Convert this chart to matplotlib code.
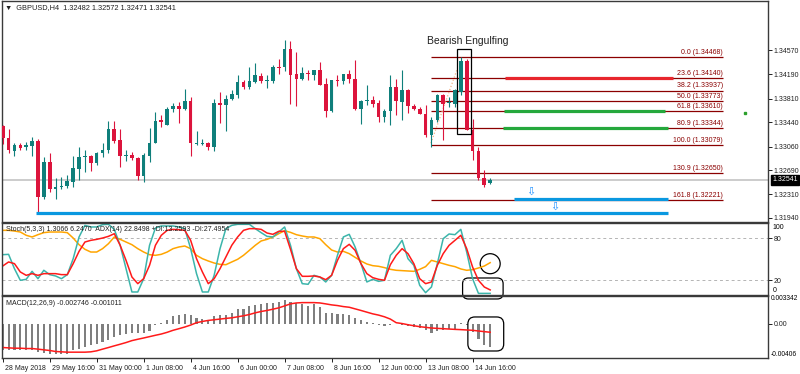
import matplotlib
matplotlib.use('Agg')
import matplotlib.pyplot as plt
from matplotlib.patches import Rectangle, Ellipse, FancyBboxPatch
from matplotlib.transforms import ScaledTranslation
import numpy as np

plt.rcParams['font.family'] = ['Liberation Sans', 'DejaVu Sans']

# GBPUSD H4 candles
opens = [1.33379, 1.33186, 1.32993, 1.33082, 1.33045, 1.33066, 1.33144, 1.32264, 1.32821, 1.32394,
         1.32431, 1.32446, 1.32509, 1.32712, 1.32889, 1.32910, 1.32806, 1.32962, 1.32998, 1.33332,
         1.33160, 1.32905, 1.32920, 1.32879, 1.32597, 1.32915, 1.33123, 1.33473, 1.33405, 1.33645,
         1.33691, 1.33645, 1.33770, 1.33103, 1.33103, 1.33123, 1.33056, 1.33738, 1.33718, 1.33811,
         1.33874, 1.34077, 1.33994, 1.34077, 1.34160, 1.34093, 1.34087, 1.34306, 1.34306, 1.34582,
         1.34192, 1.34113, 1.34212, 1.34186, 1.34254, 1.34046, 1.33613, 1.34098, 1.34093, 1.34192,
         1.34124, 1.33645, 1.33775, 1.33785, 1.33744, 1.33525, 1.33613, 1.33994, 1.33759, 1.33942,
         1.33697, 1.33655, 1.33577, 1.33238, 1.33473, 1.33863, 1.33744, 1.33733, 1.33915, 1.34400,
         1.33327, 1.32993, 1.32561, 1.32482]
highs = [1.33394, 1.33342, 1.33108, 1.33108, 1.33134, 1.33212, 1.33176, 1.32889, 1.32952, 1.32571,
         1.32587, 1.32613, 1.32910, 1.33045, 1.33004, 1.32925, 1.32978, 1.33118, 1.33457, 1.33467,
         1.33342, 1.33004, 1.32972, 1.32900, 1.32952, 1.33358, 1.33603, 1.33551, 1.33681, 1.33749,
         1.33759, 1.33968, 1.33837, 1.33301, 1.33176, 1.33134, 1.33811, 1.33915, 1.33863, 1.33942,
         1.34176, 1.34098, 1.34306, 1.34374, 1.34212, 1.34176, 1.34343, 1.34426, 1.34733, 1.34707,
         1.34541, 1.34306, 1.34254, 1.34265, 1.34384, 1.34140, 1.34108, 1.34181, 1.34202, 1.34254,
         1.34410, 1.33785, 1.34020, 1.33848, 1.33785, 1.33655, 1.34176, 1.34124, 1.34254, 1.33968,
         1.33733, 1.33681, 1.33707, 1.33525, 1.33889, 1.33889, 1.33837, 1.33968, 1.34463, 1.34436,
         1.33499, 1.33056, 1.32691, 1.32572]
lows = [1.33097, 1.32952, 1.32915, 1.33004, 1.33004, 1.32915, 1.32014, 1.32233, 1.32353, 1.32243,
        1.32394, 1.32405, 1.32431, 1.32535, 1.32665, 1.32681, 1.32769, 1.32900, 1.32962, 1.33108,
        1.32743, 1.32837, 1.32847, 1.32535, 1.32509, 1.32821, 1.33108, 1.33368, 1.33394, 1.33603,
        1.33431, 1.33629, 1.32915, 1.33082, 1.33082, 1.33004, 1.32993, 1.33431, 1.33306, 1.33796,
        1.33827, 1.33968, 1.33957, 1.34061, 1.34056, 1.33983, 1.34061, 1.34202, 1.34244, 1.33723,
        1.33691, 1.34108, 1.34108, 1.34108, 1.34020, 1.33525, 1.33603, 1.34004, 1.34035, 1.34056,
        1.33629, 1.33421, 1.33707, 1.33681, 1.33447, 1.33447, 1.33394, 1.33551, 1.33473, 1.33587,
        1.33639, 1.33566, 1.33212, 1.33056, 1.33447, 1.33160, 1.33681, 1.33681, 1.33863, 1.33316,
        1.32847, 1.32535, 1.32431, 1.32471]
closes = [1.33186, 1.33004, 1.33082, 1.33030, 1.33077, 1.33144, 1.32264, 1.32821, 1.32394, 1.32431,
          1.32446, 1.32519, 1.32722, 1.32894, 1.32910, 1.32806, 1.32962, 1.32998, 1.33332, 1.33149,
          1.32910, 1.32920, 1.32874, 1.32597, 1.32925, 1.33123, 1.33467, 1.33447, 1.33645, 1.33691,
          1.33645, 1.33770, 1.33108, 1.33118, 1.33123, 1.33056, 1.33738, 1.33718, 1.33811, 1.33879,
          1.34077, 1.33994, 1.34087, 1.34176, 1.34087, 1.34108, 1.34306, 1.34296, 1.34582, 1.34186,
          1.34113, 1.34212, 1.34192, 1.34254, 1.34030, 1.33618, 1.34098, 1.34082, 1.34192, 1.34113,
          1.33645, 1.33775, 1.33785, 1.33733, 1.33525, 1.33613, 1.33994, 1.33770, 1.33942, 1.33697,
          1.33655, 1.33577, 1.33238, 1.33483, 1.33863, 1.33733, 1.33759, 1.33942, 1.34400, 1.33327,
          1.32993, 1.32561, 1.32457, 1.32541]

# indicator values
stoch_main = [56.6, 57.1, 36.6, 20.0, 21.4, 32.8, 22.3, 34.3, 28.1, 26.2, 22.3, 28.1, 50.9, 81.9, 98.5,
              96.2, 96.2, 99.5, 100.0, 92.8, 70.0, 36.6, 3.3, 3.3, 22.3, 70.0, 94.7, 97.6, 97.6, 97.6,
              96.2, 93.8, 65.2, 29.5, 3.3, 3.3, 27.1, 65.2, 93.8, 98.5, 100.0, 100.0, 100.0,
              93.8, 88.1, 82.8, 81.9, 89.0, 96.2, 70.0, 36.6, 15.2, 14.3, 27.1, 24.7, 17.6, 27.1,
              55.7, 81.9, 85.7, 67.6, 43.8, 17.6, 21.4, 18.5, 20.0, 55.7, 65.2, 77.1, 50.9, 41.4,
              12.8, 2.3, 10.4, 43.8, 79.5, 86.2, 85.2, 92.8, 60.4, 22.3, 1.3, 1.3, 1.3066]
stoch_signal = [40.4, 46.2, 43.8, 31.9, 27.1, 29.5, 27.1, 29.5, 29.5, 29.5, 28.1, 28.1, 43.8, 61.4, 74.7,
                77.1, 78.5, 80.4, 82.8, 86.6, 70.0, 48.5, 24.7, 15.2, 22.3, 41.4, 70.0, 84.3, 91.4, 92.8,
                92.3, 91.4, 77.1, 50.9, 31.9, 15.2, 22.3, 36.6, 53.3, 70.0, 81.9, 91.4, 93.8,
                93.8, 92.8, 87.6, 85.7, 90.0, 90.0, 64.3, 36.6, 25.7, 25.7, 26.2, 24.7, 20.9, 27.1,
                48.5, 65.2, 71.4, 62.8, 43.8, 29.5, 23.8, 21.4, 20.0, 42.3, 55.7, 65.2, 58.1, 43.8,
                22.3, 15.2, 17.6, 41.4, 58.1, 70.0, 77.1, 84.3, 65.2, 39.0, 20.0, 10.4, 6.247]
adx_line = [91.4, 91.4, 90.4, 89.0, 84.3, 81.9, 85.2, 88.1, 89.0, 89.0, 89.0, 88.1, 80.4, 70.9, 64.3,
            60.4, 60.4, 65.2, 72.3, 81.9, 78.5, 74.7, 70.9, 65.2, 60.4, 56.6, 55.7, 57.1, 60.4, 65.2,
            67.6, 69.0, 65.2, 55.7, 50.9, 47.6, 44.7, 42.8, 42.3, 46.2, 50.0, 55.7, 62.8,
            70.0, 76.2, 78.5, 81.9, 86.6, 90.9, 88.5, 85.2, 83.3, 81.9, 81.9, 79.5, 70.9, 63.3,
            60.4, 61.4, 58.1, 52.8, 47.6, 43.3, 40.9, 40.0, 38.1, 35.7, 34.3, 33.8, 33.3, 32.8,
            35.7, 39.5, 48.5, 46.2, 43.8, 41.4, 39.5, 36.2, 34.3, 35.2, 37.6, 40.4, 45.2]
macd_hist = [-0.00306, -0.00313, -0.00313, -0.00313, -0.00313, -0.00313, -0.00333, -0.00341, -0.00353, -0.00360,
             -0.00360, -0.00353, -0.00313, -0.00294, -0.00275, -0.00255, -0.00235, -0.00216, -0.00188, -0.00157,
             -0.00129, -0.00118, -0.00110, -0.00110, -0.00110, -0.00087, -0.00015, 0.00008, 0.00047, 0.00086,
             0.00109, 0.00117, 0.00098, 0.00070, 0.00059, 0.00039, 0.00086, 0.00098, 0.00109, 0.00125,
             0.00176, 0.00176, 0.00215, 0.00223, 0.00235, 0.00242, 0.00250, 0.00258, 0.00282, 0.00254,
             0.00250, 0.00235, 0.00215, 0.00235, 0.00203, 0.00125, 0.00125, 0.00117, 0.00117, 0.00109,
             0.00070, 0.00039, 0.00019, 0.00008, -0.00012, -0.00023, -0.00012, -0.00004, -0.00020, -0.00028,
             -0.00040, -0.00051, -0.00078, -0.00106, -0.00090, -0.00078, -0.00067, -0.00059, 0.00012, -0.00012,
             -0.00098, -0.00176, -0.00247, -0.002746]
macd_signal = [-0.00282, -0.00286, -0.00290, -0.00290, -0.00294, -0.00294, -0.00301, -0.00309, -0.00317, -0.00329,
               -0.00333, -0.00337, -0.00337, -0.00337, -0.00337, -0.00333, -0.00321, -0.00301, -0.00282, -0.00262,
               -0.00243, -0.00223, -0.00200, -0.00184, -0.00169, -0.00153, -0.00137, -0.00122, -0.00102, -0.00078,
               -0.00059, -0.00039, -0.00016, 0.00012, 0.00027, 0.00039, 0.00047, 0.00055, 0.00063, 0.00070,
               0.00082, 0.00094, 0.00109, 0.00129, 0.00145, 0.00157, 0.00172, 0.00188, 0.00211, 0.00235,
               0.00246, 0.00250, 0.00250, 0.00250, 0.00246, 0.00235, 0.00223, 0.00215, 0.00203, 0.00195,
               0.00176, 0.00157, 0.00137, 0.00117, 0.00102, 0.00082, 0.00055, 0.00012, 0.00002, -0.00012,
               -0.00024, -0.00035, -0.00043, -0.00051, -0.00055, -0.00059, -0.00063, -0.00067, -0.00070, -0.00074,
               -0.00078, -0.00086, -0.00094, -0.001011]

xtick_pos = [0, 8, 16, 24, 32, 40, 48, 56, 64, 72, 80]
xtick_labels = ['28 May 2018', '29 May 16:00', '31 May 00:00', '1 Jun 08:00', '4 Jun 16:00', '6 Jun 00:00',
                '7 Jun 08:00', '8 Jun 16:00', '12 Jun 00:00', '13 Jun 08:00', '14 Jun 16:00']
price_ticks = [1.34570, 1.34190, 1.33810, 1.33440, 1.33060, 1.32690, 1.32310, 1.31940]

fib_ratios = ['0.0', '23.6', '38.2', '50.0', '61.8', '80.9', '100.0', '130.9', '161.8']
fib_prices = [1.34468, 1.34140, 1.33937, 1.33773, 1.33610, 1.33344, 1.33079, 1.32650, 1.32221]
bid = 1.32541
support = 1.32014

FS = 5.0
W, H = 800, 374
fig = plt.figure(figsize=(W / 100, H / 100), dpi=100)
fig.patch.set_facecolor('white')


def px_axes(x0, y0, x1, y1):
    return fig.add_axes([x0 / W, 1 - y1 / H, (x1 - x0) / W, (y1 - y0) / H])


ax = px_axes(2, 0.5, 768, 221.5)
ax_st = px_axes(2, 222.5, 768, 294.5)
ax_md = px_axes(2, 295.5, 768, 358)

x = np.arange(len(opens))
o = np.array(opens); c = np.array(closes)
up = c >= o
GREEN, RED = '#0f7f7b', '#dc143c'
cols = [GREEN if u else RED for u in up]

for a in (ax, ax_st, ax_md):
    a.set_xlim(-0.12, 130.3)
    a.set_facecolor('none')
    for s in a.spines.values():
        s.set_color('#3a3a3a')
        s.set_linewidth(1.0)
    a.yaxis.tick_right()
    a.tick_params(axis='y', direction='out', length=3, width=0.7, pad=1.2,
                  labelsize=FS, colors='#202020')
    a.tick_params(axis='x', bottom=False, labelbottom=False)

# --- main price pane ---
ax.set_ylim(1.31885, 1.35349)
ax.axhline(bid, color='#c8c8c8', lw=1.3, zorder=1)
ax.vlines(x, lows, highs, colors=cols, lw=0.8, zorder=3)
body = np.maximum(np.abs(c - o), 0.00012)
ax.bar(x, body, bottom=np.minimum(o, c), width=0.62, color=cols, zorder=4)

for p, r in zip(fib_prices, fib_ratios):
    ax.hlines(p, 73, 122.6, color='#8b0000', lw=0.9, zorder=2)
    ax.annotate(f'{r} ({p:.5f})', (122.6, p), xytext=(0, 0.8), textcoords='offset points',
                ha='right', va='bottom', fontsize=FS, color='#8b0000')

ax.hlines(fib_prices[1], 85.5, 114.1, color='#e8262d', lw=2.3, zorder=5)
ax.hlines(fib_prices[4], 85.3, 112.7, color='#25a83c', lw=2.3, zorder=5)
ax.hlines(fib_prices[5], 85.1, 113.2, color='#25a83c', lw=2.3, zorder=5)
ax.hlines(fib_prices[8] + 0.0001, 87, 113.2, color='#0a98e0', lw=2.3, zorder=5)
ax.hlines(support, 5.7, 113.2, color='#0a98e0', lw=2.3, zorder=5)
ax.text(89.9, 1.32351, '\u21e9', color='#1e90ff', fontsize=8, ha='center', va='center',
        family='DejaVu Sans')
ax.text(94.0, 1.32116, '\u21e9', color='#1e90ff', fontsize=8, ha='center', va='center',
        family='DejaVu Sans')

ax.plot([72.9, 77.3], [1.33112, 1.34254], ls=':', color='#f4b183', lw=0.9, zorder=2)
ax.add_patch(Rectangle((77.4, 1.33253), 2.3, 1.34583 - 1.33253, fill=False, ec='black', lw=0.9, zorder=6))
ax.text(72.2, 1.34708, 'Bearish Engulfing', fontsize=7.5, ha='left', va='center', color='#202020')
ax.plot(126.3, 1.33582, 's', ms=1.6, color='#2ca02c')

ax.set_yticks(price_ticks)
ax.set_yticklabels([f'{p:.5f}' for p in price_ticks])
ax.annotate(f'{bid:.5f}', (1, bid), xycoords=('axes fraction', 'data'), xytext=(3.3, 0),
            textcoords='offset points', ha='left', va='center', fontsize=FS, color='white',
            bbox=dict(boxstyle='square,pad=0.2', fc='black', ec='black'), annotation_clip=False)

fig.text(5 / W, 1 - 7.5 / H, '\u25bc  GBPUSD,H4  1.32482 1.32572 1.32471 1.32541', fontsize=FS + 0.3,
         va='center', ha='left', color='#202020')

# --- stochastic / ADX pane ---
ax_st.set_ylim(-0.3, 102.6)
for lv in (80, 20):
    ax_st.axhline(lv, color='#b4b4b4', lw=0.7, ls=(0, (3, 3)))
ax_st.plot(x, adx_line, color='#ffa500', lw=1.1)
ax_st.plot(x, stoch_main, color='#3cb5ab', lw=1.1)
ax_st.plot(x, stoch_signal, color='#ff1a1a', lw=1.1)
ax_st.set_yticks([80, 20])
ax_st.set_yticklabels(['80', '20'])
ax_st.annotate('100', (1, 100), xycoords=('axes fraction', 'data'), xytext=(3.5, 0),
               textcoords='offset points', va='top', fontsize=FS, annotation_clip=False)
ax_st.annotate('0', (1, 0), xycoords=('axes fraction', 'data'), xytext=(3.5, 0),
               textcoords='offset points', va='bottom', fontsize=FS, annotation_clip=False)
ax_st.text(0.005, 0.95, 'Stoch(5,3,3) 1.3066 6.2470  ADX(14) 22.8498 +DI:13.2593 -DI:27.4954',
           transform=ax_st.transAxes, fontsize=FS, va='top', ha='left', color='#202020')
ax_st.add_patch(Ellipse((x[-1], adx_line[-1] - 1.5), 3.4, 28.6, fill=False, ec='black', lw=0.9))
ax_st.add_patch(FancyBboxPatch((78.3, -6.7), 6.9, 30.0, boxstyle='round,pad=0,rounding_size=1.0',
                               mutation_aspect=8.4, fill=False, ec='black', lw=0.9, clip_on=False))

# --- MACD pane ---
ax_md.set_ylim(-0.00406, 0.003342)
ax_md.bar(x, macd_hist, width=0.36, color='#7f7f7f')
ax_md.plot(x, macd_signal, color='#ff1a1a', lw=1.1)
ax_md.set_yticks([0])
ax_md.set_yticklabels(['0.00'])
ax_md.annotate('0.003342', (1, 0.003342), xycoords=('axes fraction', 'data'), xytext=(2.2, 0),
               textcoords='offset points', va='top', fontsize=4.8, annotation_clip=False)
ax_md.annotate('-0.00406', (1, -0.00406), xycoords=('axes fraction', 'data'), xytext=(2.2, 0),
               textcoords='offset points', va='bottom', fontsize=4.8, annotation_clip=False)
ax_md.text(0.005, 0.93, 'MACD(12,26,9) -0.002746 -0.001011', transform=ax_md.transAxes,
           fontsize=FS, va='top', ha='left', color='#202020')
ax_md.add_patch(FancyBboxPatch((79.2, -0.00323), 6.1, 0.00403, boxstyle='round,pad=0,rounding_size=1.2',
                               mutation_aspect=0.000695, fill=False, ec='black', lw=0.9))

ax_md.tick_params(axis='x', bottom=True, labelbottom=True, direction='out', length=3, width=0.7,
                  labelsize=FS, pad=2, colors='#202020')
ax_md.set_xticks(xtick_pos)
ax_md.set_xticklabels(xtick_labels, ha='left')
shift = ScaledTranslation(1.5 / 72, 0, fig.dpi_scale_trans)
for lbl in ax_md.get_xticklabels():
    lbl.set_transform(lbl.get_transform() + shift)

fig.savefig('out.png', dpi=100, facecolor='white')
